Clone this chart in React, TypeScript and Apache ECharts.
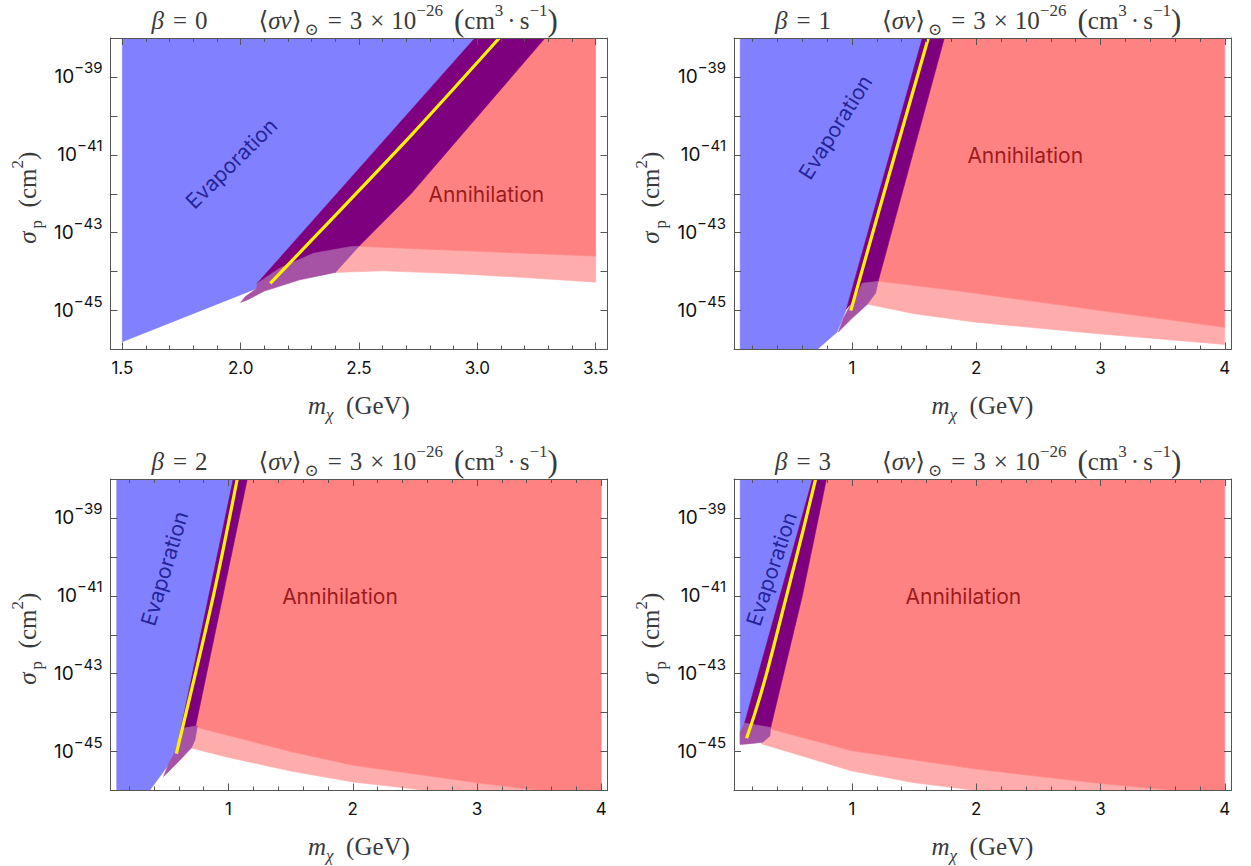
import React, { useEffect, useRef } from 'react';
import * as echarts from 'echarts';

// ---------- panel settings ----------
const BETAS = ['0', '1', '2', '3'];
const X_MIN = [1.45, 0.05, 0.05, 0.05];
const X_MAX = [3.55, 4.05, 4.05, 4.05];
const X_MAJOR_B0 = [1.5, 2.0, 2.5, 3.0, 3.5];
const X_MINOR_B0 = [1.6, 1.7, 1.8, 1.9, 2.1, 2.2, 2.3, 2.4, 2.6, 2.7, 2.8, 2.9, 3.1, 3.2, 3.3, 3.4];
const X_MAJOR = [1, 2, 3, 4];
const X_MINOR = [0.2, 0.4, 0.6, 0.8, 1.2, 1.4, 1.6, 1.8, 2.2, 2.4, 2.6, 2.8, 3.2, 3.4, 3.6, 3.8];
const Y_MIN = -46;
const Y_MAX = -38;
const Y_LABELS = [-45, -43, -41, -39];

// ---------- regions (x: GeV, y: log10 sigma_p / cm^2) ----------
// beta = 0
const blueB0 = [[1.5, -38], [1.5, -45.8], [2.08, -44.4], [3.01, -38]];
const purpleB0 = [[2.99, -38], [3.286, -38], [2.72, -42], [2.5, -43.35], [2.3, -43.7], [2.07, -44.3]];
const mauveB0 = [[2.0, -44.79], [2.02, -44.64], [2.068, -44.43], [2.07, -44.3], [2.166, -43.91], [2.307, -43.53], [2.462, -43.36], [2.5, -43.35], [2.4, -44.02], [2.25, -44.21], [2.1, -44.5], [2.03, -44.72]];
const redB0 = [[3.1, -38], [3.5, -38], [3.5, -43.6], [2.5, -43.35], [2.4, -43.3], [2.6, -42]];
const pinkB0 = [[2.38, -43.4], [2.5, -43.33], [3.5, -43.58], [3.5, -44.27], [3.2, -44.15], [2.9, -44.05], [2.6, -43.98], [2.4, -44.02]];
const yellowB0 = [[2.125, -44.3], [2.33, -43], [2.72, -40.5], [3.093, -38]];

// beta = 1
const blueB1 = [[0.1, -38], [0.1, -46], [0.72, -46], [0.88, -45.55], [0.95, -45.0], [1.58, -38]];
const purpleB1 = [[1.566, -38], [1.743, -38], [1.21, -44.25], [0.97, -44.9], [0.955, -44.96]];
const mauveB1 = [[0.89, -45.55], [0.93, -45.2], [0.98, -44.9], [1.04, -44.6], [1.08, -44.3], [1.21, -44.25], [1.19, -44.55], [1.12, -44.85], [1.0, -45.2]];
const redB1 = [[1.65, -38], [4.0, -38], [4.0, -45.43], [3.0, -45.0], [1.8, -44.47], [1.2, -44.24], [1.1, -44.3]];
const pinkB1 = [[1.15, -44.3], [1.2, -44.24], [1.8, -44.47], [3.0, -45.0], [4.0, -45.43], [4.0, -45.87], [3.0, -45.6], [2.0, -45.3], [1.5, -45.08], [1.1, -44.82]];
const yellowB1 = [[0.99, -45], [1.3, -41.5], [1.614, -38]];

// beta = 2
const blueB2 = [[0.1, -38], [0.1, -46], [0.365, -46], [0.573, -45.09], [1.05, -38]];
const purpleB2 = [[1.038, -38], [1.151, -38], [0.734, -44.36], [0.573, -45.09]];
const mauveB2 = [[0.477, -45.64], [0.52, -45.3], [0.573, -45.0], [0.63, -44.4], [0.75, -44.34], [0.73, -44.7], [0.7, -44.91], [0.6, -45.25]];
const redB2 = [[1.1, -38], [4.0, -38], [4.0, -46], [3.5, -46], [3.0, -45.8], [2.0, -45.35], [1.5, -45.0], [0.75, -44.38], [0.7, -44.3]];
const pinkB2 = [[0.7, -44.4], [0.75, -44.38], [1.5, -45.0], [2.0, -45.35], [3.0, -45.8], [3.5, -46], [2.6, -46], [2.0, -45.78], [1.5, -45.5], [1.0, -45.15], [0.7, -44.91]];
const yellowB2 = [[0.58, -45.05], [0.878, -41], [1.07, -38]];

// beta = 3
const blueB3 = [[0.1, -38], [0.1, -44.8], [0.135, -44.27], [0.7, -38]];
const purpleB3 = [[0.682, -38], [0.794, -38], [0.6, -41], [0.344, -44.4], [0.135, -44.27]];
const mauveB3 = [[0.1, -44.82], [0.1, -44.5], [0.135, -44.27], [0.344, -44.38], [0.34, -44.6], [0.28, -44.76], [0.2, -44.79]];
const redB3 = [[0.75, -38], [4.0, -38], [4.0, -46], [3.6, -46], [3.0, -45.82], [2.0, -45.45], [1.0, -44.98], [0.344, -44.42], [0.32, -44.3]];
const pinkB3 = [[0.27, -44.5], [0.344, -44.42], [1.0, -44.98], [2.0, -45.45], [3.0, -45.82], [3.6, -46], [2.0, -46], [1.5, -45.8], [1.0, -45.5], [0.5, -45.02], [0.27, -44.8]];
const yellowB3 = [[0.151, -44.66], [0.22, -44.0], [0.312, -43], [0.473, -41], [0.6, -39.4], [0.707, -38]];

// region label anchors
const evapPos = [[1.961, -41.22], [0.866, -40.29], [0.485, -40.3], [0.352, -40.31]];
const anniPos = [[3.038, -42.01], [2.394, -41.03], [1.897, -41.03], [1.896, -41.03]];

// ---------- styles / layout ----------
const GRID_LEFT = [110.5, 734, 110.5, 734];
const GRID_TOP = [38, 38, 479, 479];
const GRID_W = 497;
const GRID_H = 311.5;
const EVAP_ROT = [44.5, 57.8, 73.4, 71.6];

const BLUE = '#8181ff';
const RED = '#ff8282';
const PURPLE = '#7f007f';
const MAUVE = '#a653a6';
const PINK = '#ffacac';
const YELLOW = '#fff200';
const FRAME = '#555555';
const SERIF = '"Liberation Serif", "DejaVu Serif", serif';
const SANS = 'Inter, "Noto Sans", sans-serif';
const TITLE_COLOR = '#3a3a3a';

const panels = [
  { blue: blueB0, purple: purpleB0, mauve: mauveB0, red: redB0, pink: pinkB0, yellow: yellowB0 },
  { blue: blueB1, purple: purpleB1, mauve: mauveB1, red: redB1, pink: pinkB1, yellow: yellowB1 },
  { blue: blueB2, purple: purpleB2, mauve: mauveB2, red: redB2, pink: pinkB2, yellow: yellowB2 },
  { blue: blueB3, purple: purpleB3, mauve: mauveB3, red: redB3, pink: pinkB3, yellow: yellowB3 },
];

function serifRich(size: number, sub: number, lh: number) {
  const base = { fontFamily: SERIF, fill: TITLE_COLOR };
  return {
    n: { ...base, fontSize: size, lineHeight: lh, verticalAlign: 'middle' },
    i: { ...base, fontStyle: 'italic', fontSize: size, lineHeight: lh, verticalAlign: 'middle' },
    eq: { ...base, fontSize: size, lineHeight: lh, verticalAlign: 'middle', padding: [0, 8, 0, 9] },
    tm: { ...base, fontSize: size, lineHeight: lh, verticalAlign: 'middle', padding: [0, 7, 0, 8] },
    dot: { ...base, fontSize: size, lineHeight: lh, verticalAlign: 'middle', padding: [0, 4, 0, 4] },
    bpl: { ...base, fontSize: size + 6, lineHeight: lh, verticalAlign: 'middle', padding: [0, 0, 0, 11] },
    bpr: { ...base, fontSize: size + 6, lineHeight: lh, verticalAlign: 'middle' },
    sp: { ...base, fontSize: sub, lineHeight: sub, verticalAlign: 'top' },
    sb: { ...base, fontSize: sub, lineHeight: sub, verticalAlign: 'bottom', padding: [0, 0, 0, 3] },
    sbi: { ...base, fontStyle: 'italic', fontSize: sub, lineHeight: sub, verticalAlign: 'bottom' },
  };
}

function polySeries(g: number, pts: number[][], color: string) {
  return {
    type: 'custom',
    xAxisIndex: g * 4,
    yAxisIndex: g * 2,
    clip: true,
    silent: true,
    data: [pts[0]],
    renderItem: (params: any, api: any) => ({
      type: 'polygon',
      shape: { points: pts.map((p) => api.coord(p)) },
      style: { fill: color, stroke: color, lineWidth: 0.6 },
    }),
  };
}

function buildOption() {
  const grid: any[] = [];
  const xAxis: any[] = [];
  const yAxis: any[] = [];
  const series: any[] = [];
  const graphic: any[] = [];

  for (let g = 0; g < 4; g++) {
    grid.push({ left: GRID_LEFT[g], top: GRID_TOP[g], width: GRID_W, height: GRID_H, show: false });
    const majors = g === 0 ? X_MAJOR_B0 : X_MAJOR;
    const minors = g === 0 ? X_MINOR_B0 : X_MINOR;
    const base = { type: 'value', gridIndex: g, min: X_MIN[g], max: X_MAX[g], splitLine: { show: false }, z: 10 };
    xAxis.push({
      ...base,
      position: 'bottom',
      axisLine: { show: true, onZero: false, lineStyle: { color: FRAME, width: 1 } },
      axisTick: { show: true, inside: true, length: 7, customValues: majors, lineStyle: { color: FRAME } },
      axisLabel: {
        show: true,
        customValues: majors,
        margin: 10,
        fontFamily: SANS,
        fontSize: 17,
        color: '#111',
        formatter: (v: number) => (g === 0 ? v.toFixed(1) : String(Math.round(v))),
      },
    });
    xAxis.push({
      ...base,
      position: 'bottom',
      axisLine: { show: false, onZero: false },
      axisTick: { show: true, inside: true, length: 4, customValues: minors, lineStyle: { color: FRAME } },
      axisLabel: { show: false },
    });
    xAxis.push({
      ...base,
      position: 'top',
      axisLine: { show: true, onZero: false, lineStyle: { color: FRAME, width: 1 } },
      axisTick: { show: true, inside: true, length: 7, customValues: majors, lineStyle: { color: FRAME } },
      axisLabel: { show: false },
    });
    xAxis.push({
      ...base,
      position: 'top',
      axisLine: { show: false, onZero: false },
      axisTick: { show: true, inside: true, length: 4, customValues: minors, lineStyle: { color: FRAME } },
      axisLabel: { show: false },
    });

    const ybase = { type: 'value', gridIndex: g, min: Y_MIN, max: Y_MAX, interval: 1, splitLine: { show: false }, z: 10 };
    yAxis.push({
      ...ybase,
      position: 'left',
      axisLine: { show: true, onZero: false, lineStyle: { color: FRAME, width: 1 } },
      axisTick: { show: true, inside: true, length: 7, lineStyle: { color: FRAME } },
      axisLabel: {
        show: true,
        customValues: Y_LABELS,
        margin: 8,
        formatter: (v: number) => `{b|10}{s|−${Math.round(-v)}}`,
        rich: {
          b: { fontFamily: SANS, fontSize: 19, lineHeight: 33, color: '#111', verticalAlign: 'middle' },
          s: { fontFamily: SANS, fontSize: 15, lineHeight: 15, color: '#111', verticalAlign: 'top' },
        },
      },
    });
    yAxis.push({
      ...ybase,
      position: 'right',
      axisLine: { show: true, onZero: false, lineStyle: { color: FRAME, width: 1 } },
      axisTick: { show: true, inside: true, length: 7, lineStyle: { color: FRAME } },
      axisLabel: { show: false },
    });

    const p = panels[g];
    series.push(polySeries(g, p.pink, PINK));
    series.push(polySeries(g, p.red, RED));
    series.push(polySeries(g, p.blue, BLUE));
    series.push(polySeries(g, p.purple, PURPLE));
    series.push(polySeries(g, p.mauve, MAUVE));
    series.push({
      type: 'line',
      xAxisIndex: g * 4,
      yAxisIndex: g * 2,
      data: p.yellow,
      symbol: 'none',
      smooth: 0.3,
      clip: true,
      silent: true,
      lineStyle: { color: YELLOW, width: 3.2 },
    });
    series.push({
      type: 'scatter',
      xAxisIndex: g * 4,
      yAxisIndex: g * 2,
      symbolSize: 1,
      silent: true,
      itemStyle: { color: 'rgba(0,0,0,0)' },
      data: [
        {
          value: evapPos[g],
          label: { show: true, position: 'inside', formatter: 'Evaporation', rotate: EVAP_ROT[g], color: '#0b0b80', fontFamily: SANS, fontSize: 21 },
        },
        {
          value: anniPos[g],
          label: { show: true, position: 'inside', formatter: 'Annihilation', rotate: 0, color: '#7f0000', fontFamily: SANS, fontSize: 21 },
        },
      ],
    });

    const L = GRID_LEFT[g];
    const T = GRID_TOP[g];
    const titleRich = serifRich(25, 17, 36);
    graphic.push({
      type: 'text',
      x: L + 41,
      y: T - 18,
      style: { text: `{i|β}{eq|=}{n|${BETAS[g]}}`, align: 'left', verticalAlign: 'middle', rich: titleRich },
    });
    graphic.push({
      type: 'text',
      x: L + 148,
      y: T - 18,
      style: {
        text: '{n|⟨}{i|σv}{n|⟩}{sb|⊙}{eq|=}{n|3}{tm|×}{n|10}{sp|−26}{bpl|(}{n|cm}{sp|3}{dot|·}{n|s}{sp|−1}{bpr|)}',
        align: 'left',
        verticalAlign: 'middle',
        rich: titleRich,
      },
    });
    const axRich = serifRich(25, 17, 36);
    graphic.push({
      type: 'text',
      x: L + GRID_W / 2,
      y: T + GRID_H + 55.5,
      style: { text: '{i|m}{sbi|χ}{n|  (GeV)}', align: 'center', verticalAlign: 'middle', rich: axRich },
    });
    graphic.push({
      type: 'text',
      x: L - 83.5,
      y: T + GRID_H / 2 + 4,
      rotation: Math.PI / 2,
      style: { text: '{i|σ}{sb|p}{n|  (cm}{sp|2}{n|)}', align: 'center', verticalAlign: 'middle', rich: axRich },
    });
  }

  return { animation: false, backgroundColor: '#ffffff', textStyle: { fontFamily: SANS }, grid, xAxis, yAxis, series, graphic };
}

export default function App() {
  const ref = useRef<HTMLDivElement>(null);
  useEffect(() => {
    if (!ref.current) return;
    const chart = echarts.init(ref.current, undefined, { renderer: 'svg' });
    chart.setOption(buildOption() as any);
    return () => chart.dispose();
  }, []);
  return <div ref={ref} style={{ position: 'fixed', left: 0, top: 0, width: 1251, height: 866, background: '#fff' }} />;
}
